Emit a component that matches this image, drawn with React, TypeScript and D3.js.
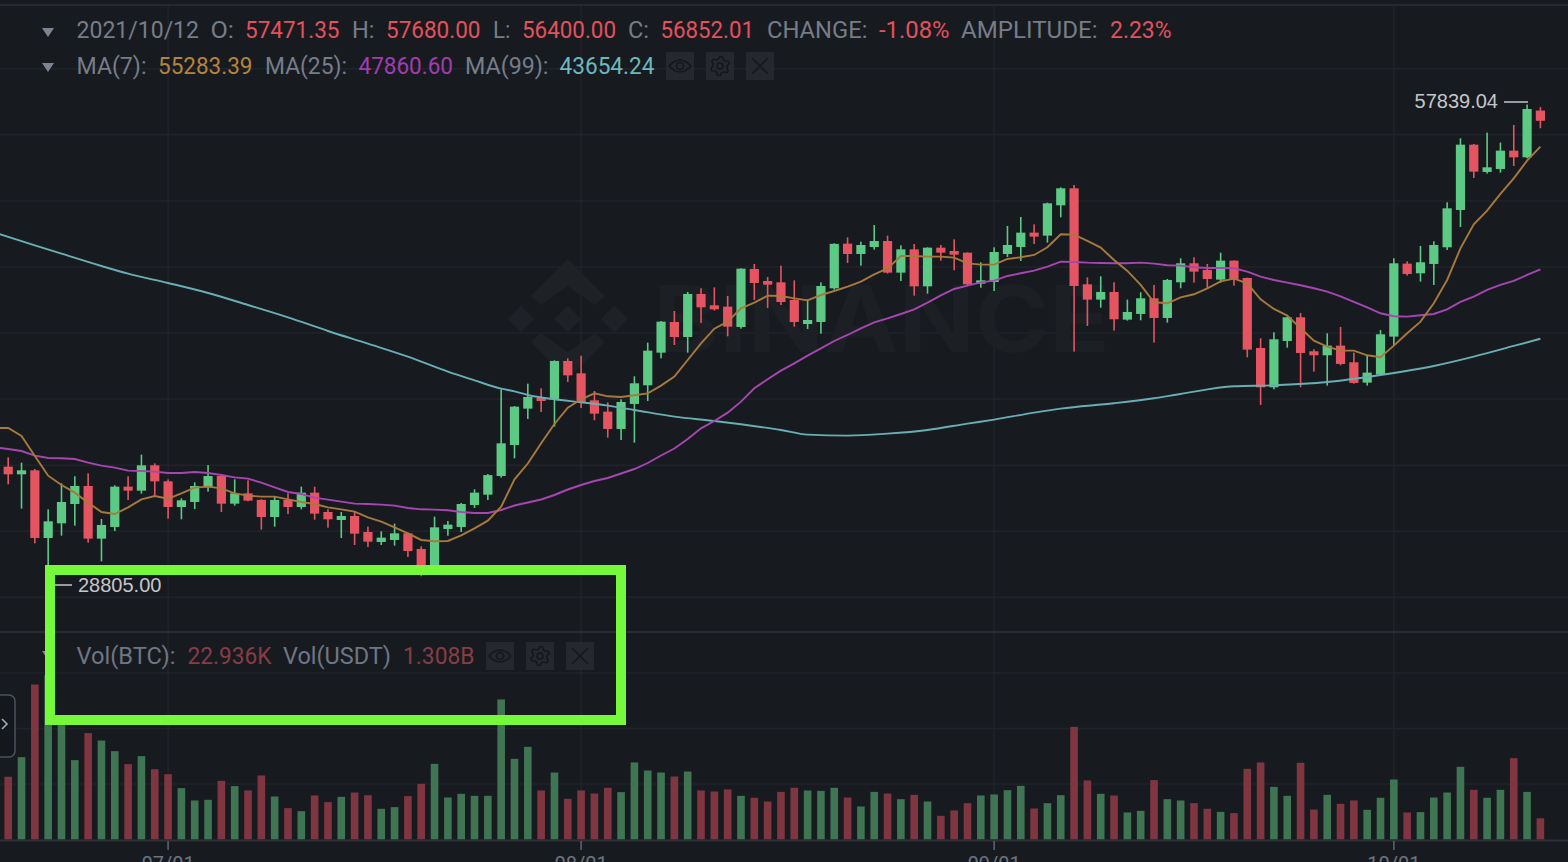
import React from 'react';
import * as d3 from 'd3';

const WIDTH = 1568;
const HEIGHT = 862;

const startDay = Date.UTC(2021, 5, 19);
const monthTicks = ['07/01', '08/01', '09/01', '10/01'];
const monthDates = [Date.UTC(2021, 6, 1), Date.UTC(2021, 7, 1), Date.UTC(2021, 8, 1), Date.UTC(2021, 9, 1)];
const priceTicks = [28000, 32000, 36000, 40000, 44000, 48000, 52000, 56000, 60000];
const volumeTicks = [60, 120, 180];

const opens = [
  35910, 35446, 35688, 31592, 32480, 33650, 34740, 31551, 32258, 34700,
  34457, 35991, 35022, 33468, 33771, 34659, 35345, 33670, 34296, 33900,
  32863, 33892, 33468, 34336, 33166, 32681, 32924, 31955, 31350, 31471,
  31874, 30926, 29790, 32137, 32258, 33589, 34215, 35345, 37222, 39423,
  40089, 39988, 42309, 41562, 39928, 39241, 38192, 39706, 40836, 42813,
  44670, 43762, 46365, 45679, 45598, 44367, 47879, 47152, 47071, 46002,
  44549, 44670, 46708, 49412, 48787, 49210, 49574, 47657, 49069, 46829,
  49170, 48968, 48867, 46991, 47092, 48788, 49212, 50080, 49898, 51735,
  52764, 46952, 46024, 46488, 44813, 45156, 46104, 44914, 47073, 48223,
  47820, 47235, 48385, 47335, 43098, 40716, 43521, 44954, 42896, 42654,
  43239, 42230, 40999, 41483, 43784, 48203, 47618, 48183, 49192, 51452,
  55407, 53753, 53934, 55044, 54641, 57471.35,
];
const highs = [
  36475, 36152, 35769, 33327, 34901, 35325, 35507, 32742, 34780, 35325,
  36637, 36112, 35143, 33993, 34962, 36011, 35365, 35143, 35083, 33933,
  34094, 34296, 34699, 34699, 33327, 33166, 33166, 32278, 31995, 32459,
  31915, 31087, 32883, 32621, 33711, 34538, 35466, 40592, 39583, 40937,
  40654, 42349, 42470, 42632, 40493, 39807, 39988, 41381, 43419, 44730,
  45336, 46486, 46708, 46769, 46244, 47919, 48181, 47394, 48080, 47192,
  46042, 47071, 49432, 49796, 49533, 50542, 49897, 49311, 49392, 49190,
  49331, 49675, 48888, 48282, 49190, 50484, 51028, 50584, 51896, 52824,
  52966, 47376, 47436, 47073, 46024, 46468, 46912, 47275, 48526, 48587,
  48183, 48869, 48405, 47356, 43683, 44046, 44995, 45217, 43017, 43986,
  44369, 42815, 42634, 44187, 48526, 48344, 49273, 49555, 51916, 55791,
  55450, 56134, 55529, 56598, 57839.04, 57680,
];
const lows = [
  34841, 33368, 31269, 28805, 31733, 32338, 31309, 30179, 32015, 33892,
  34276, 34114, 32762, 32722, 33347, 34397, 33166, 33549, 33812, 32096,
  32278, 33045, 33327, 32702, 32217, 31592, 31168, 31047, 31168, 31128,
  30441, 29278, 29480, 31733, 31955, 33408, 33892, 35244, 36415, 38798,
  39221, 38333, 41038, 39463, 38717, 37667, 37526, 37365, 39887, 42470,
  43277, 42813, 44609, 45356, 43802, 44266, 46002, 45517, 45699, 44387,
  44246, 43964, 46627, 48242, 48080, 49049, 47600, 47152, 46264, 46385,
  48383, 47798, 46890, 46748, 46547, 48607, 48365, 49394, 49475, 51008,
  42876, 44430, 45539, 44147, 44752, 44773, 43421, 44631, 46710, 47053,
  46710, 47053, 46871, 42533, 39647, 40595, 43118, 40716, 41665, 40817,
  42050, 40938, 40817, 41443, 43279, 47477, 47113, 46912, 49031, 50423,
  53389, 53652, 53712, 54116, 54580, 56400,
];
const closes = [
  35446, 35688, 31592, 32601, 33771, 34740, 31551, 32379, 34700, 34457,
  35991, 35022, 33468, 33872, 34740, 35345, 33670, 34296, 33852, 32863,
  33892, 33468, 34336, 33065, 32722, 32924, 31854, 31370, 31612, 31874,
  30805, 29715, 32237, 32399, 33650, 34336, 35400, 37323, 39543, 40129,
  39887, 42309, 41441, 39827, 39120, 38192, 39827, 40957, 42934, 44690,
  43762, 46365, 45558, 45437, 44387, 47899, 47031, 46930, 45881, 44670,
  44791, 46849, 49400, 48787, 49331, 49574, 47657, 49069, 46829, 49170,
  48867, 48746, 46950, 47192, 48908, 49333, 50080, 49838, 51856, 52764,
  46851, 46024, 46488, 44833, 45277, 46104, 44914, 47214, 48223, 47719,
  47275, 48385, 47235, 42997, 40716, 43622, 44954, 42795, 42654, 43239,
  42129, 40979, 41604, 43925, 48223, 47578, 48284, 49333, 51553, 55407,
  53773, 54035, 55044, 54641, 57567, 56852.01,
];
// thousands of BTC
const volumes = [
  67.8, 89.0, 167.6, 177.7, 127.2, 85.8, 115.0, 107.0, 95.5, 81.5,
  90.1, 76.0, 70.6, 55.5, 42.2, 42.9, 63.4, 57.7, 53.0, 69.2,
  46.5, 33.9, 30.6, 47.6, 40.4, 46.1, 50.8, 47.9, 33.2, 35.0,
  46.9, 60.2, 81.8, 45.4, 49.4, 47.2, 47.2, 151.4, 87.2, 100.2,
  53.0, 72.4, 44.0, 53.0, 49.7, 55.9, 51.2, 83.3, 74.6, 72.4,
  68.1, 73.5, 53.0, 51.9, 54.1, 47.2, 45.1, 41.1, 51.5, 55.9,
  53.0, 52.6, 55.9, 45.4, 35.7, 51.5, 49.7, 43.6, 48.3, 41.1,
  25.6, 31.4, 39.3, 47.6, 48.7, 53.3, 58.0, 33.5, 39.3, 47.9,
  121.8, 63.8, 49.4, 47.6, 29.2, 31.0, 64.2, 43.6, 42.2, 39.3,
  33.2, 29.9, 28.5, 76.4, 83.3, 56.9, 47.2, 82.9, 32.4, 48.3,
  38.6, 42.2, 32.1, 45.1, 64.9, 29.2, 29.6, 45.4, 50.8, 78.6,
  53.7, 45.1, 53.7, 87.9, 51.5, 22.936,
];

// moving averages start one day before the first full candle (off the left edge)
const ma7 = [
  38250, 38251, 37767, 36556, 35365, 34800, 34336, 33731, 33166, 33045, 33448,
  33933, 34134, 33973, 34296, 34639, 34699, 34598, 34296, 34155, 34094,
  34094, 33933, 33771, 33650, 33448, 33327, 33186, 32843, 32580, 32237,
  31874, 31471, 31390, 31410, 31753, 32177, 32641, 33489, 35143, 36100,
  37324, 38495, 39484, 39988, 40351, 40170, 40129, 40230, 40351, 40816,
  41360, 42369, 43378, 44266, 44690, 45497, 45840, 46264, 46244, 46103,
  45982, 46304, 46547, 46809, 47112, 47556, 47919, 48666, 48666, 48625,
  48625, 48565, 48222, 48141, 48141, 48486, 48587, 48728, 49192, 49979,
  49959, 49575, 49172, 48425, 47759, 46912, 45862, 45802, 46165, 46347,
  46710, 47134, 47295, 47013, 46044, 45459, 45055, 44288, 43542, 43178,
  42936, 42936, 42654, 42533, 43239, 43986, 44692, 45802, 47214, 49131,
  50584, 51412, 52421, 53369, 54439, 55283.39,
];
const ma25 = [
  37080, 36980, 36859, 36576, 36435, 36415, 36374, 36152, 35971, 35850, 35668,
  35648, 35607, 35527, 35527, 35587, 35527, 35406, 35264, 35184, 34942,
  34659, 34377, 34255, 34033, 33912, 33791, 33670, 33650, 33610, 33549,
  33408, 33327, 33307, 33267, 33166, 33105, 33105, 33286, 33558, 33740,
  33921, 34194, 34527, 34799, 35042, 35223, 35496, 35768, 36132, 36586,
  37010, 37585, 38232, 38676, 39181, 39847, 40654, 41199, 41724, 42168,
  42632, 43076, 43520, 43883, 44286, 44650, 44892, 45154, 45437, 45840,
  46284, 46668, 46870, 47071, 47172, 47457, 47618, 47779, 48022, 48324,
  48304, 48264, 48244, 48223, 48223, 48264, 48203, 48102, 48082, 47981,
  47941, 47941, 47921, 47719, 47416, 47214, 47053, 46892, 46710, 46508,
  46226, 45883, 45560, 45196, 45015, 44995, 45075, 45156, 45439, 45883,
  46205, 46609, 46912, 47154, 47517, 47860.6,
];
// MA(99) is very smooth, read at these candle numbers
const ma99Days = [
  -1, 2, 4, 7, 9, 12, 15, 18, 21, 24, 27, 30, 33, 35, 37, 38, 39, 41, 43, 45, 47, 50,
  53, 55, 58, 60, 63, 66, 69, 72, 74, 77, 79, 83, 86, 88, 92, 95, 99, 103, 107, 110, 113, 115,
];
const ma99 = [
  50078, 49311, 48807, 48060, 47596, 47031, 46425, 45699, 44952, 44125, 43358, 42571, 41663, 41138, 40634, 40472, 40250, 39988, 39807, 39605, 39342, 38939,
  38676, 38475, 38132, 37849, 37789, 37910, 38132, 38515, 38760, 39183, 39425, 39748, 40051, 40313, 40777, 40838, 41039, 41463, 42008, 42573, 43219, 43654.24,
];

const UP = '#5cc985';
const DOWN = '#e55561';
const UP_VOL = '#3f7553';
const DOWN_VOL = '#803641';
const GRID = '#20242a';
const GREY = '#767d89';
const FONT = 'Roboto, sans-serif';

const dayMs = 24 * 3600 * 1000;
const dayX = d3.scaleUtc().domain([startDay, startDay + 115 * dayMs]).range([8.2, 1540.4]);
const x = (i: number) => dayX(startDay + i * dayMs);
const y = d3.scaleLinear().domain([28000, 60000]).range([597.3, 68.8]);
const volY = d3.scaleLinear().domain([0, 180]).range([839.5, 673]);

const maLine = d3.line<number>().x((_, i) => x(i - 1)).y((d) => y(d));
const ma99Line = d3.line<number>().x((_, i) => x(ma99Days[i])).y((d) => y(d)).curve(d3.curveMonotoneX);

const gearPath = d3.lineRadial<number>()
  .angle((_, i) => (i * Math.PI) / 12)
  .radius((_, i) => (i % 4 < 2 ? 9.5 : 7))
  .curve(d3.curveLinearClosed)(d3.range(24));

const Label = ({ x: left, right, y: base, fill = GREY, children }: any) => (
  <text x={left} y={base} fill={fill} fontFamily={FONT} fontSize={23} textLength={right - left} lengthAdjust="spacingAndGlyphs">
    {children}
  </text>
);

const Caret = ({ cx, cy }: any) => (
  <path d={`M${cx - 6},${cy - 4}L${cx + 6},${cy - 4}L${cx},${cy + 5}Z`} fill="#7d8592" />
);

const IconRow = ({ lefts, top }: any) => (
  <g fill="none" stroke="#14171b" strokeWidth={1.6}>
    {lefts.map((left: number, i: number) => {
      const cx = left + 14;
      const cy = top + 14;
      return (
        <g key={i}>
          <rect x={left} y={top} width={28} height={28} fill="#25282e" stroke="none" />
          {i === 0 && (
            <>
              <path d={`M${cx - 11},${cy}Q${cx},${cy - 12} ${cx + 11},${cy}Q${cx},${cy + 12} ${cx - 11},${cy}Z`} />
              <circle cx={cx} cy={cy} r={3.6} />
            </>
          )}
          {i === 1 && (
            <>
              <path d={gearPath as string} transform={`translate(${cx},${cy})`} />
              <circle cx={cx} cy={cy} r={3} />
            </>
          )}
          {i === 2 && <path d={`M${cx - 8},${cy - 8}L${cx + 8},${cy + 8}M${cx + 8},${cy - 8}L${cx - 8},${cy + 8}`} />}
        </g>
      );
    })}
  </g>
);

export default function App() {
  return (
    <svg width={WIDTH} height={HEIGHT} style={{ position: 'fixed', left: 0, top: 0, display: 'block' }}>
      <rect width={WIDTH} height={HEIGHT} fill="#171b20" />

      {/* grid */}
      {priceTicks.map((t) => (
        <line key={t} x1={0} x2={WIDTH} y1={y(t)} y2={y(t)} stroke={GRID} strokeWidth={1.5} />
      ))}
      {volumeTicks.map((t) => (
        <line key={t} x1={0} x2={WIDTH} y1={volY(t)} y2={volY(t)} stroke={GRID} strokeWidth={1.5} />
      ))}
      {monthDates.map((d) => (
        <line key={d} x1={dayX(d)} x2={dayX(d)} y1={6} y2={840} stroke={GRID} strokeWidth={1.5} />
      ))}
      <line x1={0} x2={WIDTH} y1={5} y2={5} stroke="#262a30" strokeWidth={2} />
      <line x1={0} x2={WIDTH} y1={632} y2={632} stroke="#2a2e34" strokeWidth={2} />

      {/* watermark */}
      <g fill="#1e2227" transform="translate(567.7,319)">
        <path d="M0,-60L37,-23L27,-14L0,-33L-27,-14L-37,-23Z" />
        <path d="M0,60L37,23L27,14L0,33L-27,14L-37,23Z" />
        <path d="M0,-13.5L13.5,0L0,13.5L-13.5,0Z" />
        <path d="M-46.7,-13.5L-33.2,0L-46.7,13.5L-60.2,0Z" />
        <path d="M46.7,-13.5L60.2,0L46.7,13.5L33.2,0Z" />
      </g>
      <text x={653} y={352} fill="#1c2025" fontFamily="Inter, sans-serif" fontWeight={700} fontSize={92} textLength={457} lengthAdjust="spacingAndGlyphs">
        BINANCE
      </text>

      {/* volume */}
      {volumes.map((v, i) => (
        <rect
          key={i}
          x={x(i) - 3.8}
          y={volY(v)}
          width={7.6}
          height={volY(0) - volY(v)}
          fill={closes[i] >= opens[i] ? UP_VOL : DOWN_VOL}
        />
      ))}
      <line x1={0} x2={WIDTH} y1={840.5} y2={840.5} stroke="#2d3138" strokeWidth={2} />
      {monthDates.map((d, i) => (
        <g key={d}>
          <line x1={dayX(d)} x2={dayX(d)} y1={841} y2={850} stroke="#5e6673" strokeWidth={1.5} />
          <text x={dayX(d)} y={871} textAnchor="middle" fill="#6c7380" fontFamily={FONT} fontSize={20}>
            {monthTicks[i]}
          </text>
        </g>
      ))}

      {/* candles */}
      {opens.map((o, i) => {
        const c = closes[i];
        const color = c >= o ? UP : DOWN;
        return (
          <g key={i} fill={color}>
            <rect x={x(i) - 0.8} y={y(highs[i])} width={1.6} height={y(lows[i]) - y(highs[i])} />
            <rect x={x(i) - 4.6} y={y(Math.max(o, c))} width={9.2} height={Math.max(1, Math.abs(y(o) - y(c)))} />
          </g>
        );
      })}

      {/* moving averages */}
      <g fill="none" strokeWidth={1.9}>
        <path d={ma99Line(ma99) as string} stroke="#68aeb4" />
        <path d={maLine(ma25) as string} stroke="#a746b3" />
        <path d={maLine(ma7) as string} stroke="#a8793c" />
      </g>

      {/* high / low marks */}
      <line x1={1504} x2={1528} y1={102} y2={102} stroke="#c3c6cb" strokeWidth={1.5} />
      <text x={1498} y={108} textAnchor="end" fill="#c3c6cb" fontFamily="'Liberation Sans', sans-serif" fontSize={20}>
        57839.04
      </text>
      <line x1={55} x2={72} y1={585} y2={585} stroke="#c3c6cb" strokeWidth={1.5} />
      <text x={78} y={592} fill="#c3c6cb" fontFamily="'Liberation Sans', sans-serif" fontSize={20}>
        28805.00
      </text>

      {/* legend rows */}
      <Caret cx={48} cy={32} />
      <Label x={76.5} right={199} y={38}>2021/10/12</Label>
      <Label x={210.5} right={234} y={38}>O:</Label>
      <Label x={245} right={339.5} y={38} fill="#e5505c">57471.35</Label>
      <Label x={352} right={374.5} y={38}>H:</Label>
      <Label x={386} right={480.5} y={38} fill="#e5505c">57680.00</Label>
      <Label x={493} right={510.5} y={38}>L:</Label>
      <Label x={522} right={616} y={38} fill="#e5505c">56400.00</Label>
      <Label x={628} right={649} y={38}>C:</Label>
      <Label x={660.5} right={754} y={38} fill="#e5505c">56852.01</Label>
      <Label x={767} right={867.5} y={38}>CHANGE:</Label>
      <Label x={879} right={949.5} y={38} fill="#e5505c">-1.08%</Label>
      <Label x={961} right={1097.5} y={38}>AMPLITUDE:</Label>
      <Label x={1110} right={1171.5} y={38} fill="#e5505c">2.23%</Label>

      <Caret cx={48} cy={67} />
      <Label x={76.5} right={146.5} y={74}>MA(7):</Label>
      <Label x={158} right={252.5} y={74} fill="#b5843b">55283.39</Label>
      <Label x={265} right={347} y={74}>MA(25):</Label>
      <Label x={358.5} right={453} y={74} fill="#a23bb0">47860.60</Label>
      <Label x={465} right={548.5} y={74}>MA(99):</Label>
      <Label x={559.5} right={654.5} y={74} fill="#6cb8be">43654.24</Label>
      <IconRow lefts={[666, 706, 746]} top={52} />

      <Caret cx={48} cy={655} />
      <Label x={76.5} right={175.5} y={663.5} fill="#6f7683">Vol(BTC):</Label>
      <Label x={187.5} right={271.5} y={663.5} fill="#873c46">22.936K</Label>
      <Label x={283} right={391} y={663.5} fill="#6f7683">Vol(USDT)</Label>
      <Label x={403} right={474.5} y={663.5} fill="#873c46">1.308B</Label>
      <IconRow lefts={[486, 526, 566]} top={642} />

      {/* collapse handle */}
      <rect x={-12} y={695} width={27} height={62} rx={6} fill="#14171c" stroke="#4c525c" strokeWidth={1.5} />
      <path d="M2,719L7,724L2,729" fill="none" stroke="#a5a9b0" strokeWidth={1.6} />

      {/* highlight box */}
      <rect x={50} y={570} width={571} height={150} fill="none" stroke="#76f93b" strokeWidth={10} />
    </svg>
  );
}
